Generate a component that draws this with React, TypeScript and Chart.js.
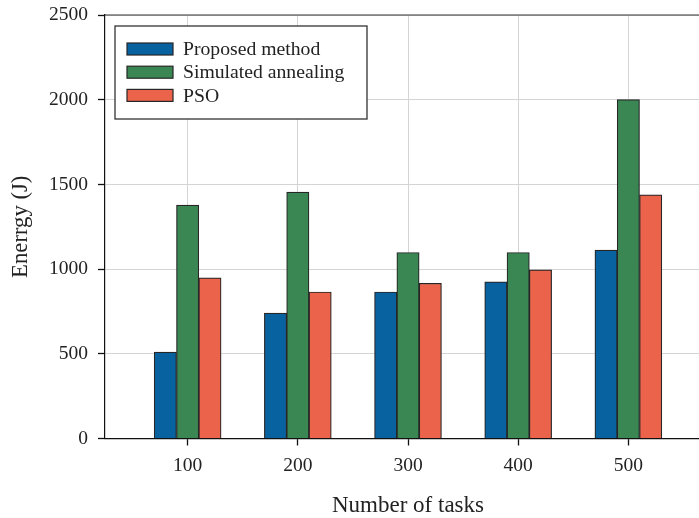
import React, { useEffect, useRef } from "react";
import { Chart, registerables } from "chart.js";

Chart.register(...registerables);

const categories = [100, 200, 300, 400, 500];
const proposed = [510, 740, 865, 925, 1112];
const annealing = [1378, 1455, 1098, 1098, 2000];
const pso = [948, 865, 916, 996, 1438];
const seriesNames = ["Proposed method", "Simulated annealing", "PSO"];
const seriesColors = ["#0862a0", "#3a8754", "#eb634b"];
const yTicks = [0, 500, 1000, 1500, 2000, 2500];

const FONT = "'Liberation Serif', 'Times New Roman', serif";

const framePlugin = {
  id: "frameAndLegend",
  afterDraw(chart: any) {
    const ctx = chart.ctx;
    const a = chart.chartArea;
    ctx.save();
    // top & right spines
    ctx.strokeStyle = "#333333";
    ctx.lineWidth = 1.2;
    ctx.beginPath();
    ctx.moveTo(a.left, a.top);
    ctx.lineTo(a.right, a.top);
    ctx.lineTo(a.right, a.bottom);
    ctx.stroke();
    // legend
    const lx = 115, ly = 26, lw = 252, lh = 93;
    ctx.fillStyle = "#ffffff";
    ctx.fillRect(lx, ly, lw, lh);
    ctx.strokeStyle = "#333333";
    ctx.lineWidth = 1.3;
    ctx.strokeRect(lx, ly, lw, lh);
    chart.data.datasets.forEach((ds: any, i: number) => {
      const cy = 49 + i * 23.2;
      ctx.fillStyle = ds.backgroundColor;
      ctx.fillRect(127, cy - 6, 46, 12);
      ctx.strokeStyle = "#262626";
      ctx.lineWidth = 1.2;
      ctx.strokeRect(127, cy - 6, 46, 12);
      ctx.fillStyle = "#222222";
      ctx.font = `19.7px ${FONT}`;
      ctx.textBaseline = "middle";
      ctx.textAlign = "left";
      ctx.fillText(ds.label, 183, cy + 1);
    });
    ctx.restore();
  },
};

export default function App() {
  const ref = useRef<HTMLCanvasElement | null>(null);
  useEffect(() => {
    if (!ref.current) return;
    const seriesValues = [proposed, annealing, pso];
    const chart = new Chart(ref.current, {
      type: "bar",
      data: {
        datasets: seriesNames.map((name, si) => ({
          label: name,
          data: categories.map((c, i) => ({ x: c, y: seriesValues[si][i] })),
          backgroundColor: seriesColors[si],
          borderColor: "#262626",
          borderWidth: 1.2,
          barThickness: 22.3,
        })),
      },
      options: {
        responsive: false,
        animation: false,
        layout: { padding: { left: 0, top: 15, right: 4, bottom: 0 } },
        plugins: { legend: { display: false }, tooltip: { enabled: false } },
        scales: {
          x: {
            type: "linear",
            min: 25,
            max: 575,
            offset: false,
            afterBuildTicks: (scale: any) => {
              scale.ticks = categories.map((v) => ({ value: v }));
            },
            afterFit: (scale: any) => {
              scale.height = 518 - 438.5;
              scale.paddingLeft = 0;
              scale.paddingRight = 0;
            },
            grid: {
              color: "#d4d4d4",
              lineWidth: 1,
              tickColor: "#111111",
              tickWidth: 1.3,
              tickLength: 7,
              offset: false,
            },
            border: { color: "#111111", width: 1.2 },
            ticks: {
              color: "#222222",
              font: { family: FONT, size: 19.5 },
              padding: 9,
              maxRotation: 0,
              callback: (v: any) => String(v),
            },
            title: {
              display: true,
              text: "Number of tasks",
              color: "#222222",
              font: { family: FONT, size: 23, lineHeight: 1 },
              padding: { top: 0, bottom: 0.5 },
            },
          },
          y: {
            min: 0,
            max: 2500,
            afterBuildTicks: (scale: any) => {
              scale.ticks = yTicks.map((v) => ({ value: v }));
            },
            afterFit: (scale: any) => {
              scale.width = 105;
              scale.paddingTop = 0;
              scale.paddingBottom = 0;
            },
            grid: {
              color: "#d4d4d4",
              lineWidth: 1,
              tickColor: "#111111",
              tickWidth: 1.3,
              tickLength: 7,
            },
            border: { color: "#111111", width: 1.2 },
            ticks: {
              color: "#222222",
              font: { family: FONT, size: 19.5 },
              padding: 10,
              callback: (v: any) => String(v),
            },
            title: {
              display: true,
              text: "Enerrgy (J)",
              color: "#222222",
              font: { family: FONT, size: 22.7, lineHeight: 1 },
              padding: { top: 10, bottom: 0 },
            },
          },
        },
      },
      plugins: [framePlugin],
    } as any);
    return () => chart.destroy();
  }, []);
  return (
    <div
      style={{
        position: "absolute",
        left: 0,
        top: 0,
        width: 699,
        height: 518,
        overflow: "hidden",
        background: "#ffffff",
      }}
    >
      <canvas ref={ref} width={715} height={518} style={{ width: 715, height: 518, display: "block" }} />
    </div>
  );
}
